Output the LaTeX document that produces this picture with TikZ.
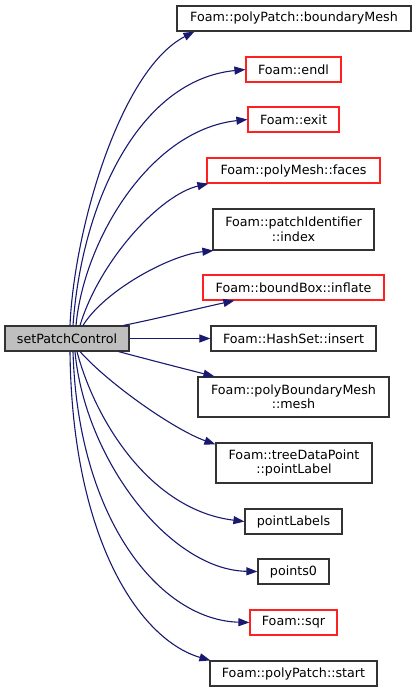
\documentclass[tikz,border=0pt]{standalone}
\usepackage{fontspec}
\setmainfont{DejaVu Sans}
\usetikzlibrary{arrows.meta}
\definecolor{edgecol}{HTML}{191970}
\definecolor{boxline}{HTML}{333333}
\definecolor{redline}{HTML}{FF2020}
\definecolor{srcgray}{HTML}{BFBFBF}
\begin{document}
\begin{tikzpicture}[x=1pt,y=-1pt,
  box/.style={draw=boxline, line width=1.2pt, inner sep=0pt, align=center,
    font=\fontsize{12.7}{14.5}\selectfont, fill=white},
  redbox/.style={box, draw=redline},
  srcbox/.style={box, fill=srcgray},
  call/.style={draw=edgecol, line width=1.1pt, -{Triangle[length=11pt,width=8pt]}}]
\useasboundingbox (0,0) rectangle (416,692);
\node[box, minimum width=234pt, minimum height=25pt] (bm) at (294,18.5) {Foam::polyPatch::boundaryMesh};
\node[redbox, minimum width=95pt, minimum height=25pt] (endl) at (293.5,69.5) {Foam::endl};
\node[redbox, minimum width=91pt, minimum height=25pt] (exit) at (293.5,119.5) {Foam::exit};
\node[redbox, minimum width=173pt, minimum height=25pt] (faces) at (293.5,170.5) {Foam::polyMesh::faces};
\node[box, minimum width=161pt, minimum height=41pt] (index) at (293.5,229.5) {Foam::patchIdentifier\\::index};
\node[redbox, minimum width=181pt, minimum height=25pt] (inflate) at (293.5,287.5) {Foam::boundBox::inflate};
\node[box, minimum width=165pt, minimum height=25pt] (insert) at (293.5,338.5) {Foam::HashSet::insert};
\node[srcbox, minimum width=124pt, minimum height=25pt] (src) at (67,338.5) {setPatchControl};
\node[box, minimum width=191pt, minimum height=40pt] (mesh) at (293.5,397) {Foam::polyBoundaryMesh\\::mesh};
\node[box, minimum width=156pt, minimum height=40pt] (pl) at (294,463) {Foam::treeDataPoint\\::pointLabel};
\node[box, minimum width=97pt, minimum height=25pt] (pls) at (293.5,521.5) {pointLabels};
\node[box, minimum width=71pt, minimum height=25pt] (p0) at (293.5,571.5) {points0};
\node[redbox, minimum width=87pt, minimum height=25pt] (sqr) at (293.5,622.5) {Foam::sqr};
\node[box, minimum width=167pt, minimum height=25pt] (st) at (293.5,673.5) {Foam::polyPatch::start};

\draw[call] ([xshift=3pt]src.north) .. controls (74,230) and (120,70) .. ([xshift=18pt]bm.south west);
\draw[call] ([xshift=6pt]src.north) .. controls (82,200) and (140,80) .. (endl.west);
\draw[call] ([xshift=9pt]src.north) .. controls (84,240) and (150,130) .. (exit.west);
\draw[call] ([xshift=13pt]src.north) .. controls (100,260) and (160,195) .. ([xshift=2pt]faces.south west);
\draw[call] ([xshift=16pt]src.north) .. controls (105,290) and (170,255) .. ([xshift=1pt]index.south west);
\draw[call] ([xshift=-6pt]src.north east) .. controls (160,318) and (200,308) .. ([xshift=32pt]inflate.south west);
\draw[call] (src.east) -- (insert.west);
\draw[call] ([xshift=-11pt]src.south east) .. controls (150,360) and (185,369) .. ([xshift=17pt]mesh.north west);
\draw[call] ([xshift=13pt]src.south) .. controls (110,385) and (175,430) .. ([yshift=-2pt]pl.north west);
\draw[call] ([xshift=10pt]src.south) .. controls (95,420) and (150,510) .. (pls.west);
\draw[call] ([xshift=8pt]src.south) .. controls (85,460) and (170,570) .. (p0.west);
\draw[call] ([xshift=6pt]src.south) .. controls (78,520) and (160,620) .. (sqr.west);
\draw[call] ([xshift=3pt]src.south) .. controls (72,540) and (140,640) .. ([xshift=1pt]st.north west);
\end{tikzpicture}
\end{document}
